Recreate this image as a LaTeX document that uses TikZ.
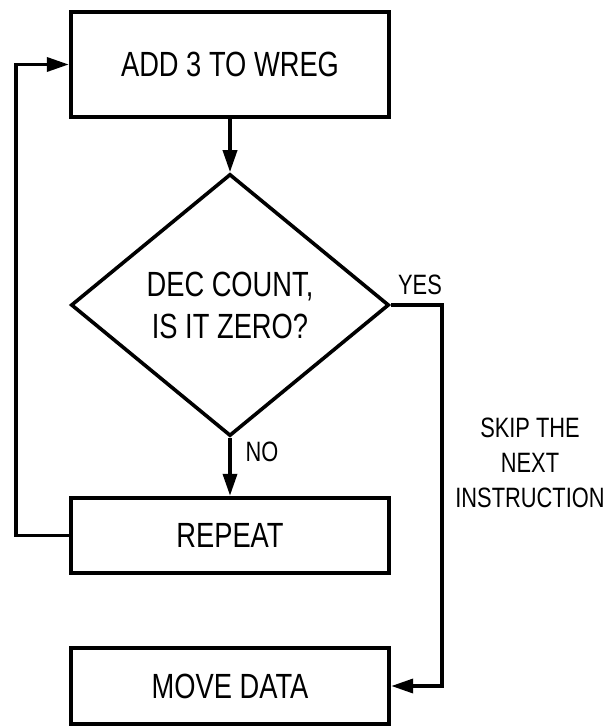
\documentclass[tikz,border=0pt]{standalone}
\usepackage{fontspec}
\setmainfont[FakeStretch=0.78]{Liberation Sans}
\usetikzlibrary{shapes.geometric,arrows.meta}

\begin{document}
\begin{tikzpicture}[x=0.5pt,y=-0.5pt,
    box/.style={draw,line width=2.2pt,minimum width=159pt,inner sep=0pt,font=\fontsize{17.5}{21}\selectfont},
    arr/.style={line width=1.8pt,-{Triangle[length=11pt,width=7pt]}},
    lbl/.style={inner sep=0pt,align=center,font=\fontsize{14}{17.5}\selectfont}]
                \useasboundingbox (0,0) rectangle (613,726);
                \foreach \y/\h/\n/\t in {64.5/52.5pt/add/ADD 3 TO WREG, 535.5/37.5pt/rep/REPEAT, 686/38pt/move/MOVE DATA}
                \node[box,minimum height=\h] (\n) at (230,\y) {\t};
                \node[draw,diamond,line width=1.8pt,minimum width=159pt,minimum height=131pt,inner sep=0pt,align=center,font=\fontsize{17.5}{21}\selectfont] (dec) at (230,305) {DEC COUNT,\\IS IT ZERO?};
                \node[lbl] (yes) at (420,285) {YES};
                \node[lbl] (no) at (262,452) {NO};
                \node[lbl] (skip) at (530,463) {SKIP THE\\NEXT\\INSTRUCTION};
                \draw[arr] (add) -- (dec);
                \draw[arr] (dec) -- (rep);
                \draw[arr] (rep.west) -- ++(-53,0) |- (add.west);
                \draw[arr] (dec.east) -- ++(51,0) |- (move.east);
            \end{tikzpicture}
\end{document}
